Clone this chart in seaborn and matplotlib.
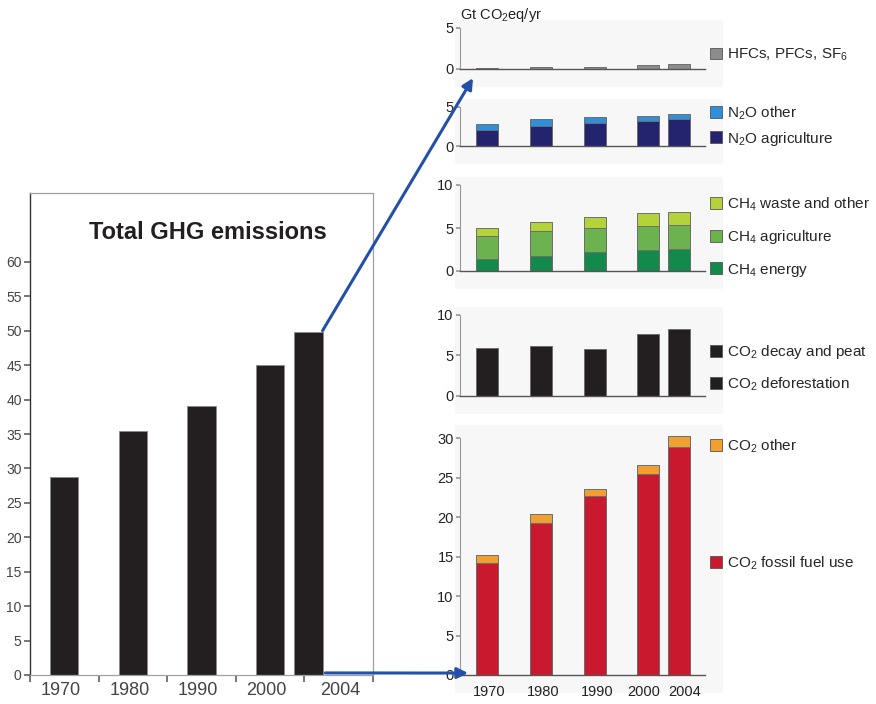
import matplotlib
matplotlib.use('Agg')
import matplotlib.pyplot as plt
from matplotlib.patches import Patch, Rectangle, ConnectionPatch
import seaborn as sns

sns.set_theme(style='white')
plt.rcParams['font.family'] = ['Liberation Sans', 'DejaVu Sans']
plt.rcParams['mathtext.fontset'] = 'custom'
plt.rcParams['mathtext.rm'] = 'Liberation Sans'
plt.rcParams['mathtext.it'] = 'Liberation Sans:italic'
plt.rcParams['mathtext.bf'] = 'Liberation Sans:bold'

# values in Gt CO2-eq / yr
years = ['1970', '1980', '1990', '2000', '2004']
total_ghg = [28.8, 35.5, 39.1, 45.0, 49.8]
f_gases = [0.1, 0.2, 0.3, 0.5, 0.55]
n2o_agriculture = [2.0, 2.6, 3.0, 3.2, 3.4]
n2o_other = [0.8, 0.8, 0.7, 0.7, 0.65]
ch4_energy = [1.4, 1.8, 2.2, 2.4, 2.6]
ch4_agriculture = [2.7, 2.8, 2.8, 2.8, 2.8]
ch4_waste = [0.9, 1.1, 1.3, 1.5, 1.5]
co2_deforestation = [5.9, 6.1, 5.75, 7.65, 8.25]
co2_fossil = [14.2, 19.3, 22.7, 25.4, 28.9]
co2_other = [1.0, 1.1, 0.9, 1.2, 1.4]

# bar slots along x: 2004 is squeezed in right next to 2000
slots = [0, 1, 2, 3, 3.56]
label_slots = [0.05, 1.05, 2.05, 2.92, 3.68]
BAR_W = 0.73
W, H = 876, 704

fig = plt.figure(figsize=(W / 100, H / 100), dpi=100)


def stacked(ax, x, layers, colors):
    tops = []
    run = [0] * len(x)
    for layer in layers:
        run = [a + b for a, b in zip(run, layer)]
        tops.append(run)
    # tallest first, lower layers painted over it
    for top, col in reversed(list(zip(tops, colors))):
        sns.barplot(x=x, y=top, native_scale=True, color=col, saturation=1,
                    width=BAR_W, edgecolor='#6e6e6e', linewidth=0.7,
                    errorbar=None, ax=ax)


def style_panel(ax, ymax, yticks):
    ax.set_xlim(-0.5, 4.05)
    ax.set_ylim(0, ymax)
    ax.set_yticks(yticks)
    ax.set_xticks([])
    ax.set_xlabel('')
    ax.set_ylabel('')
    sns.despine(ax=ax)
    ax.spines['left'].set_color('#999999')
    ax.spines['left'].set_linewidth(0.8)
    ax.spines['left'].set_bounds(0, yticks[-1])
    ax.spines['bottom'].set_color('#555555')
    ax.spines['bottom'].set_linewidth(1.0)
    ax.tick_params(axis='y', left=True, length=3, color='#999999',
                   labelsize=10.5, labelcolor='#222222', pad=1.5)
    ax.patch.set_alpha(0)
    # light grey card behind each panel
    pos = ax.get_position()
    fig.patches.append(Rectangle((455 / W, pos.y0 - 18 / H), (723 - 455) / W,
                                 pos.height + 26 / H, transform=fig.transFigure,
                                 facecolor='#f7f7f7', edgecolor='none', zorder=-5))


def side_legend(ax, labels, colors, y, spacing):
    handles = [Patch(facecolor=c, edgecolor='#555555', linewidth=0.6) for c in colors]
    return ax.legend(handles, labels, loc='center left', bbox_to_anchor=(1.02, y),
                     frameon=False, fontsize=11, handlelength=0.8, handleheight=0.8,
                     handletextpad=0.3, borderpad=0, borderaxespad=0,
                     labelspacing=spacing)


# ---- left: total GHG emissions ----
ax0 = fig.add_axes([30 / W, 29 / H, 343 / W, 482 / H])
sns.barplot(x=[s + 0.5 for s in slots], y=total_ghg, native_scale=True,
            color='#231f20', saturation=1, width=BAR_W, edgecolor='#8a8a8a',
            linewidth=0.6, errorbar=None, ax=ax0)
ax0.set_xlim(0, 5)
ax0.set_ylim(0, 70)
ax0.set_yticks(range(0, 61, 5))
ax0.set_xticks(range(0, 6))
ax0.set_xticklabels([])
ax0.set_xticks([i + 0.45 for i in range(4)] + [4.52], minor=True)
ax0.set_xticklabels(years, minor=True)
ax0.set_xlabel('')
ax0.set_ylabel('')
ax0.tick_params(axis='x', which='major', bottom=True, length=5, color='#666666')
ax0.tick_params(axis='x', which='minor', bottom=True, length=0, labelsize=13,
                labelcolor='#444444', pad=5)
ax0.tick_params(axis='y', left=True, length=4, color='#666666', labelsize=10,
                labelcolor='#444444', pad=2)
for side in ['top', 'right', 'bottom']:
    ax0.spines[side].set_color('#a0a0a0')
    ax0.spines[side].set_linewidth(0.9)
ax0.spines['left'].set_color('#333333')
ax0.spines['left'].set_linewidth(1.0)
ax0.text(0.52, 0.919, 'Total GHG emissions', transform=ax0.transAxes, ha='center',
         va='center', fontsize=17, fontweight='bold', color='#231f20')

# ---- right: breakdown by gas ----
ax1 = fig.add_axes([460 / W, (H - 69) / H, 245 / W, 41.3 / H])
stacked(ax1, slots, [f_gases], ['#8c8c8c'])
style_panel(ax1, 5, [0, 5])
side_legend(ax1, ['HFCs, PFCs, SF$_6$'], ['#8c8c8c'], 0.34, 1.0)
ax1.text(0, 1.31, 'Gt CO$_2$eq/yr', transform=ax1.transAxes, ha='left', va='center',
         fontsize=10.5, color='#222222')

ax2 = fig.add_axes([460 / W, (H - 146) / H, 245 / W, 39 / H])
stacked(ax2, slots, [n2o_agriculture, n2o_other], ['#24246e', '#2f8fd8'])
style_panel(ax2, 5, [0, 5])
side_legend(ax2, ['N$_2$O other', 'N$_2$O agriculture'], ['#2f8fd8', '#24246e'],
            0.51, 0.5)

ax3 = fig.add_axes([460 / W, (H - 271) / H, 245 / W, 86 / H])
stacked(ax3, slots, [ch4_energy, ch4_agriculture, ch4_waste],
        ['#138a4b', '#6cb24e', '#b4d23a'])
style_panel(ax3, 10, [0, 5, 10])
side_legend(ax3, ['CH$_4$ waste and other', 'CH$_4$ agriculture', 'CH$_4$ energy'],
            ['#b4d23a', '#6cb24e', '#138a4b'], 0.395, 1.0)

ax4 = fig.add_axes([460 / W, (H - 395.7) / H, 245 / W, 80.7 / H])
stacked(ax4, slots, [co2_deforestation], ['#231f20'])
style_panel(ax4, 10, [0, 5, 10])
side_legend(ax4, ['CO$_2$ decay and peat', 'CO$_2$ deforestation'],
            ['#231f20', '#231f20'], 0.343, 0.9)

ax5 = fig.add_axes([460 / W, (H - 675) / H, 245 / W, 241.7 / H])
stacked(ax5, slots, [co2_fossil, co2_other], ['#c8192e', '#f0a030'])
style_panel(ax5, 30.6, [0, 5, 10, 15, 20, 25, 30])
ax5.set_xticks(label_slots)
ax5.set_xticklabels(years)
ax5.tick_params(axis='x', length=0, labelsize=10.5, labelcolor='#222222', pad=7)
leg_top = side_legend(ax5, ['CO$_2$ other'], ['#f0a030'], 0.947, 1.0)
ax5.add_artist(leg_top)
side_legend(ax5, ['CO$_2$ fossil fuel use'], ['#c8192e'], 0.463, 1.0)

# ---- zoom arrows ----
bar_edge = slots[-1] + 0.5 + BAR_W * 0.56 / 2
arrow_kw = dict(arrowstyle='-|>', color='#2350a8', lw=2.2, mutation_scale=16)
fig.add_artist(ConnectionPatch(xyA=(bar_edge, total_ghg[-1] + 0.2), coordsA='data',
                               axesA=ax0, xyB=(0.053, -0.22), coordsB='axes fraction',
                               axesB=ax1, **arrow_kw))
fig.add_artist(ConnectionPatch(xyA=(bar_edge + 0.04, 0.3), coordsA='data', axesA=ax0,
                               xyB=(0.033, 0.008), coordsB='axes fraction',
                               axesB=ax5, **arrow_kw))

fig.savefig('out.png', dpi=100)
